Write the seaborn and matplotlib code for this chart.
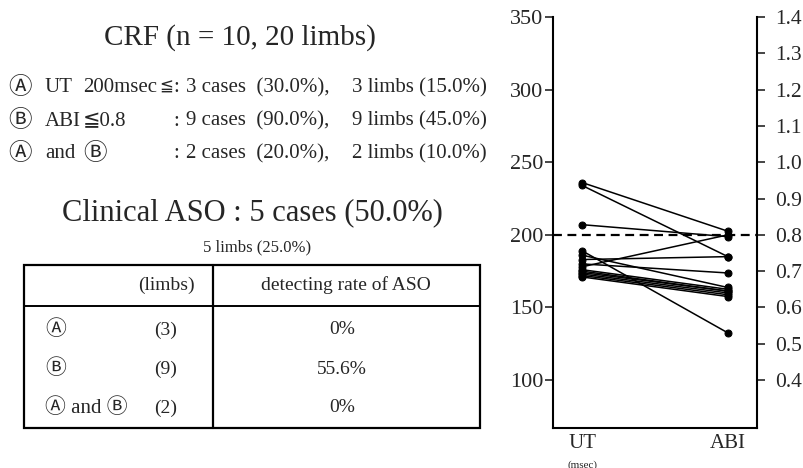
import numpy as np
import pandas as pd
import seaborn as sns
import matplotlib.pyplot as plt

# values (one entry per limb line)
ut = [236, 234, 207, 189, 186, 183, 180, 178, 176, 175, 173, 172, 174, 171]
abi = [0.81, 0.74, 0.795, 0.53, 0.655, 0.74, 0.695, 0.80, 0.65, 0.645, 0.64, 0.635, 0.645, 0.63]
ut_ticks = [100, 150, 200, 250, 300, 350]
abi_ticks = [0.4, 0.5, 0.6, 0.7, 0.8, 0.9, 1.0, 1.1, 1.2, 1.3, 1.4]
cutoff_ut = 200

crf_marks = ["Ⓐ", "Ⓑ", "Ⓐ"]
crf_names = ["UT", "ABI", "and"]
crf_conds = ["200msec", "≦0.8", "Ⓑ"]
crf_cases = ["3 cases  (30.0%),", "9 cases  (90.0%),", "2 cases  (20.0%),"]
crf_limbs = ["3 limbs (15.0%)", "9 limbs (45.0%)", "2 limbs (10.0%)"]

tab_labels = ["Ⓐ", "Ⓑ", "Ⓐ and Ⓑ"]
tab_limbs = [3, 9, 2]
tab_rates = ["0%", "55.6%", "0%"]

sns.set_style("ticks")
plt.rcParams["font.family"] = ["Liberation Serif", "DejaVu Serif", "DejaVu Sans", "Noto Sans CJK JP"]

fig = plt.figure(figsize=(8.04, 4.68), dpi=100)
renderer = fig.canvas.get_renderer()

# text / table panel in pixel coordinates
tx = fig.add_axes([0, 0, 1, 1])
tx.set_xlim(0, 804)
tx.set_ylim(468, 0)
tx.axis("off")


def right_edge(t):
    return t.get_window_extent(renderer).x1


tx.text(240, 38, "CRF (n = 10, 20 limbs)", fontsize=21, ha="center", va="center")
row_y = [88, 121, 154]
fs = 15

# first row sets the colon column
t = tx.text(83, row_y[0], crf_conds[0], fontsize=fs, va="center")
t = tx.text(right_edge(t) + 2, row_y[0], "≦", fontsize=12, va="center")
colon_x = right_edge(t) + 1

for i, y in enumerate(row_y):
    tx.text(8, y, crf_marks[i], fontsize=17, va="center")
    tx.text(45, y, crf_names[i], fontsize=fs, va="center")
    if i == 1:
        tx.text(83, y, crf_conds[i], fontsize=fs, va="center")
    elif i == 2:
        tx.text(83, y, crf_conds[i], fontsize=17, va="center")
    c = tx.text(colon_x, y, ":", fontsize=fs, va="center")
    tx.text(right_edge(c) + 6, y, crf_cases[i], fontsize=fs, va="center")
    tx.text(487, y, crf_limbs[i], fontsize=fs, ha="right", va="center")

tx.text(252, 213, "Clinical ASO : 5 cases (50.0%)", fontsize=22, ha="center", va="center")
tx.text(257, 247, "5 limbs (25.0%)", fontsize=12, ha="center", va="center")

# table frame
tx.add_patch(plt.Rectangle((24, 265), 456, 163, fill=False, lw=1.6, ec="black"))
tx.plot([213, 213], [265, 428], color="black", lw=1.6)
tx.plot([24, 480], [306, 306], color="black", lw=1.4)
tx.text(195, 285, "(limbs)", fontsize=14, ha="right", va="center")
tx.text(346, 285, "detecting rate of ASO", fontsize=14, ha="center", va="center")
for i, (lab, n, rate) in enumerate(zip(tab_labels, tab_limbs, tab_rates)):
    y = 330 + i * 39
    tx.text(45, y, lab, fontsize=15, ha="left", va="center")
    tx.text(166, y, f"({n})", fontsize=14, ha="center", va="center")
    tx.text(342, y, rate, fontsize=14, ha="center", va="center")

# slope chart
ax = fig.add_axes([553 / 804, 1 - 428 / 468, 204 / 804, 411 / 468])
ax2 = ax.twinx()
ax.set_xlim(-0.2, 1.2)
ax.set_ylim(67, 350)
ax2.set_ylim(0.4 - 33 / 250, 1.4)

# ABI values placed on the left scale through the twin axis transform
pts = np.column_stack([np.ones(len(abi)), abi])
abi_left = ax.transData.inverted().transform(ax2.transData.transform(pts))[:, 1]

df = pd.DataFrame({
    "limb": list(range(len(ut))) * 2,
    "x": [0] * len(ut) + [1] * len(ut),
    "y": list(ut) + list(abi_left),
})
sns.lineplot(data=df, x="x", y="y", units="limb", estimator=None, color="black",
             marker="o", markersize=5, markeredgecolor="black", linewidth=1.1,
             sort=False, ax=ax, legend=False)
ax.axhline(cutoff_ut, color="black", lw=1.6, ls=(0, (4, 2.5)), clip_on=False)

ax.set_yticks(ut_ticks)
ax.set_xticks([0, 1])
ax.set_xticklabels(["UT", "ABI"], fontsize=15)
ax.tick_params(axis="x", length=0, pad=4)
ax.tick_params(axis="y", labelsize=16, length=6, width=1.2, pad=1)
ax.set_xlabel("")
ax.set_ylabel("")
ax.text(0, -0.09, "(msec)", transform=ax.get_xaxis_transform(), fontsize=8,
        ha="center", va="center")

ax2.set_yticks(abi_ticks)
ax2.set_yticklabels([f"{v:.1f}" for v in abi_ticks])
ax2.tick_params(axis="y", labelsize=15.5, length=6, width=1.2, pad=7)

for s in ["top", "right"]:
    ax.spines[s].set_visible(False)
for s in ["top", "left", "bottom"]:
    ax2.spines[s].set_visible(False)
for a in (ax, ax2):
    for s in a.spines.values():
        s.set_linewidth(1.5)
        s.set_color("black")

fig.savefig("out.png", dpi=100)
